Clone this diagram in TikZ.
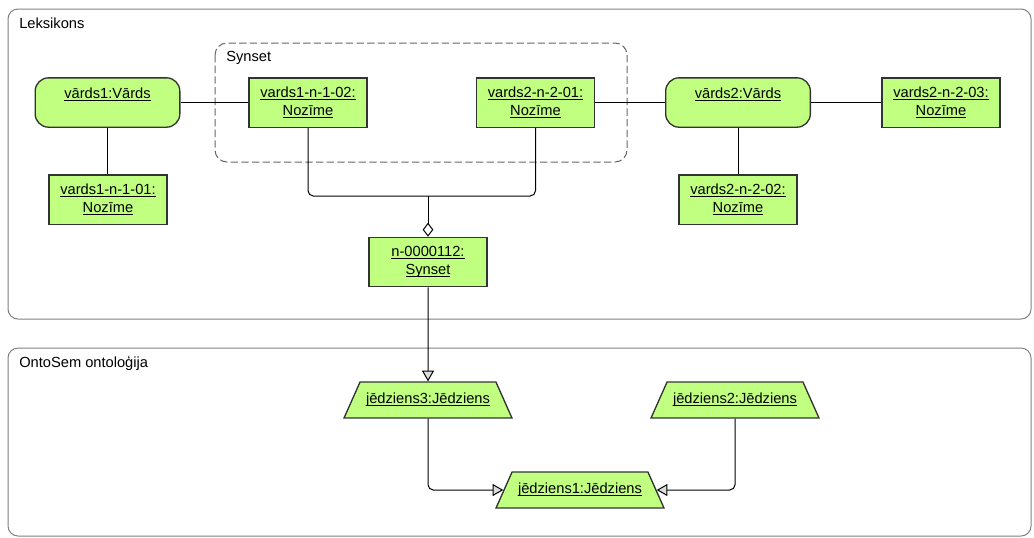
\documentclass[tikz,border=0pt]{standalone}
\usepackage{fontspec}
\setmainfont{Liberation Sans}
\usetikzlibrary{shapes.geometric,arrows.meta}

\definecolor{objgreen}{RGB}{192,255,128}
\definecolor{framegray}{RGB}{128,128,128}
\definecolor{tipgray}{RGB}{220,220,220}
\newcommand{\ulname}[1]{\underline{\smash{#1}\vphantom{A}}}

\begin{document}
\begin{tikzpicture}[x=0.75pt,y=0.75pt,yscale=-1,xscale=1,
  font=\fontsize{11}{13.5}\selectfont,
  frame/.style={draw=framegray,line width=0.75pt,rounded corners=7.5pt},
  groupframe/.style={draw=black!60,line width=0.75pt,rounded corners=9pt,dash pattern=on 5.5pt off 2.5pt},
  sensebox/.style={draw=black!80,fill=objgreen,line width=1pt,minimum width=88.5pt,minimum height=37pt,align=center,inner sep=0pt},
  wordbox/.style={sensebox,rounded corners=10pt,minimum width=108.5pt},
  conceptbox/.style={trapezium,trapezium left angle=66,trapezium right angle=66,draw=black!80,fill=objgreen,line width=1pt,inner xsep=4.5pt,inner ysep=8.7pt},
  link/.style={draw=black,line width=0.75pt},
  genlink/.style={link,rounded corners=4pt,-{Triangle[length=8pt,width=9pt,fill=tipgray]}},
  agglink/.style={link,-{Diamond[length=10.5pt,width=8pt,fill=white]}}
]
\useasboundingbox (0,0) rectangle (1034,537);

%Shape: Frames
\draw [frame] (8,9) rectangle (1031,319);
\draw [frame] (8,348) rectangle (1031,536);
\draw [groupframe] (215,43) rectangle (627,162);

% Text Node
\node [anchor=west,inner sep=0pt] (lexlabel) at (19,23) {Leksikons};
\node [anchor=west,inner sep=0pt] (synlabel) at (226,58) {Synset};
\node [anchor=west,inner sep=0pt] (ontolabel) at (19,363) {OntoSem ontoloģija};

%Shape: Objects
\node [wordbox] (word1) at (107.5,102.5) {\ulname{vārds1:Vārds}\\ ~};
\node [sensebox] (sense12) at (308,102.5) {\ulname{vards1-n-1-02:}\\ \ulname{Nozīme}};
\node [sensebox] (sense21) at (535.5,102.5) {\ulname{vards2-n-2-01:}\\ \ulname{Nozīme}};
\node [wordbox] (word2) at (738,102.5) {\ulname{vārds2:Vārds}\\ ~};
\node [sensebox] (sense23) at (941,102.5) {\ulname{vards2-n-2-03:}\\ \ulname{Nozīme}};
\node [sensebox] (sense11) at (108,199.5) {\ulname{vards1-n-1-01:}\\ \ulname{Nozīme}};
\node [sensebox] (sense22) at (738,199.5) {\ulname{vards2-n-2-02:}\\ \ulname{Nozīme}};
\node [sensebox] (synset) at (428,262) {\ulname{n-0000112:}\\ \ulname{Synset}};

%Shape: Concepts
\node [conceptbox] (concept3) at (428,400) {\ulname{jēdziens3:Jēdziens}};
\node [conceptbox] (concept2) at (735,400) {\ulname{jēdziens2:Jēdziens}};
\node [conceptbox] (concept1) at (580,490) {\ulname{jēdziens1:Jēdziens}};

%Connectors
\draw [link] (word1) -- (sense12);
\draw [link] (word1) -- (word1 |- sense11.north);
\draw [link] (sense21) -- (word2);
\draw [link] (word2) -- (sense23);
\draw [link] (word2) -- (word2 |- sense22.north);

\coordinate (join) at (428,196);
\draw [link,rounded corners=4pt] (sense12.south) |- (join) -| (sense21.south);
\draw [agglink] (join) -- (synset.north);

\draw [genlink] (synset.south) -- (concept3.north);
\draw [genlink] (concept3.south) |- (concept1.west);
\draw [genlink] (concept2.south) |- (concept1.east);

\end{tikzpicture}
\end{document}
